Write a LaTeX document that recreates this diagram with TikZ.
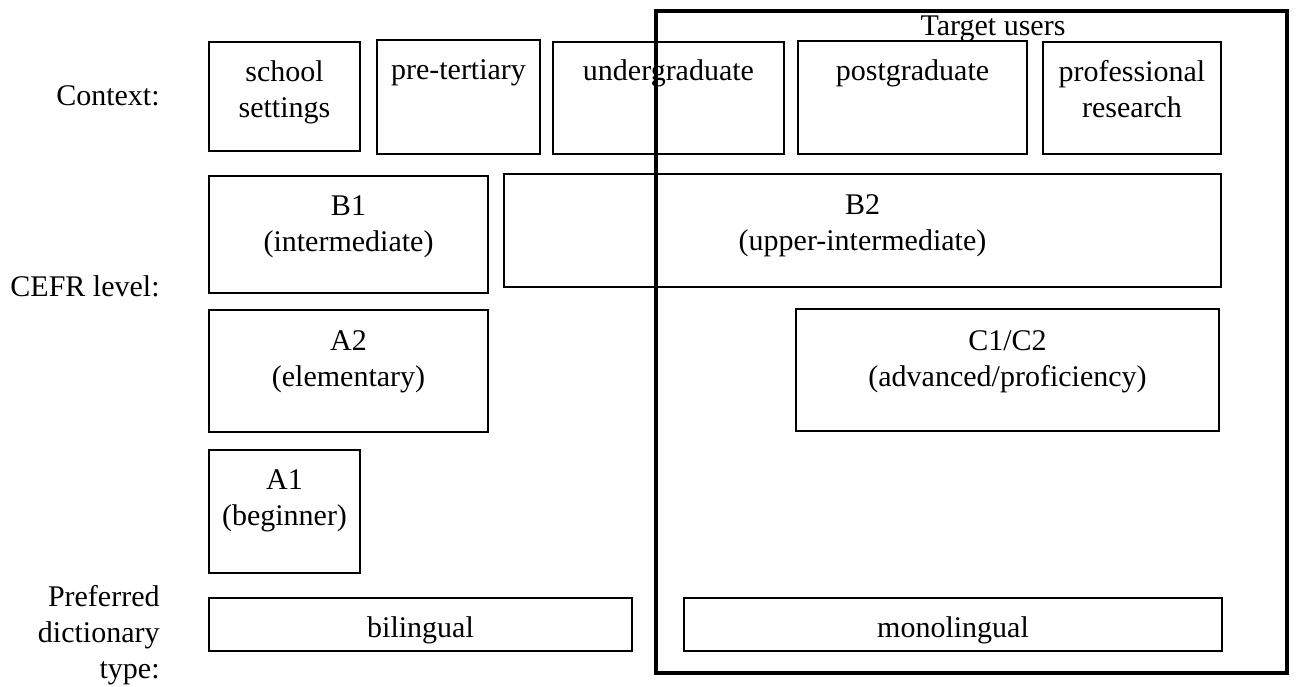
\documentclass[tikz,border=0pt]{standalone}
\usepackage{fontspec}
\setmainfont{Liberation Serif}
\tikzset{
  caja/.style={line width=1.3pt},
  marco/.style={line width=2.2pt},
  texto/.style={font=\fontsize{15}{18}\selectfont, inner sep=0pt, align=center},
}
\begin{document}
\begin{tikzpicture}[x=0.5pt,y=-0.5pt]
            \useasboundingbox (0,0) rectangle (1296,686);
            % cajas
            \foreach \xa/\ya/\xb/\yb in {209/42/360/151, 377/40/540/154, 553/42/784/154,
                798/41/1027/154, 1043/42/1221/154, 209/176/488/293, 504/174/1221/287,
                209/310/488/432, 796/309/1219/431, 209/450/360/573,
                209/598/632/651, 684/598/1222/651}
            \draw[caja] (\xa,\ya) rectangle (\xb,\yb);
            % etiquetas a la izquierda
            \node[texto, anchor=base east] (ctx) at (160,105) {Context:};
            \node[texto, anchor=base east] (cefr) at (160,296) {CEFR level:};
            \node[texto, align=right, anchor=north east] (pref) at (160,585) {Preferred\\dictionary\\type:};
            % contexto
            \node[texto, anchor=north] (school) at (284.5,60) {school\\settings};
            \node[texto, anchor=north] (pretert) at (458.5,59) {pre-tertiary};
            \node[texto, anchor=north] (undergrad) at (668.5,59) {undergraduate};
            \node[texto, anchor=north] (postgrad) at (912.5,59) {postgraduate};
            \node[texto, anchor=north] (profres) at (1132,60) {professional\\research};
            % niveles
            \node[texto, anchor=north] (b1) at (348.5,195) {B1\\(intermediate)};
            \node[texto, anchor=north] (b2) at (862.5,194) {B2\\(upper-intermediate)};
            \node[texto, anchor=north] (a2) at (348.5,330) {A2\\(elementary)};
            \node[texto, anchor=north] (c1c2) at (1007.5,330) {C1/C2\\(advanced/proficiency)};
            \node[texto, anchor=north] (a1) at (284.5,469) {A1\\(beginner)};
            % diccionario
            \node[texto, anchor=base] (biling) at (420.5,637) {bilingual};
            \node[texto, anchor=base] (monoling) at (953,637) {monolingual};
            % usuarios
            \draw[marco] (656,11) rectangle (1287,673);
            \node[texto, anchor=base] (target) at (993,35) {Target users};
\end{tikzpicture}
\end{document}
